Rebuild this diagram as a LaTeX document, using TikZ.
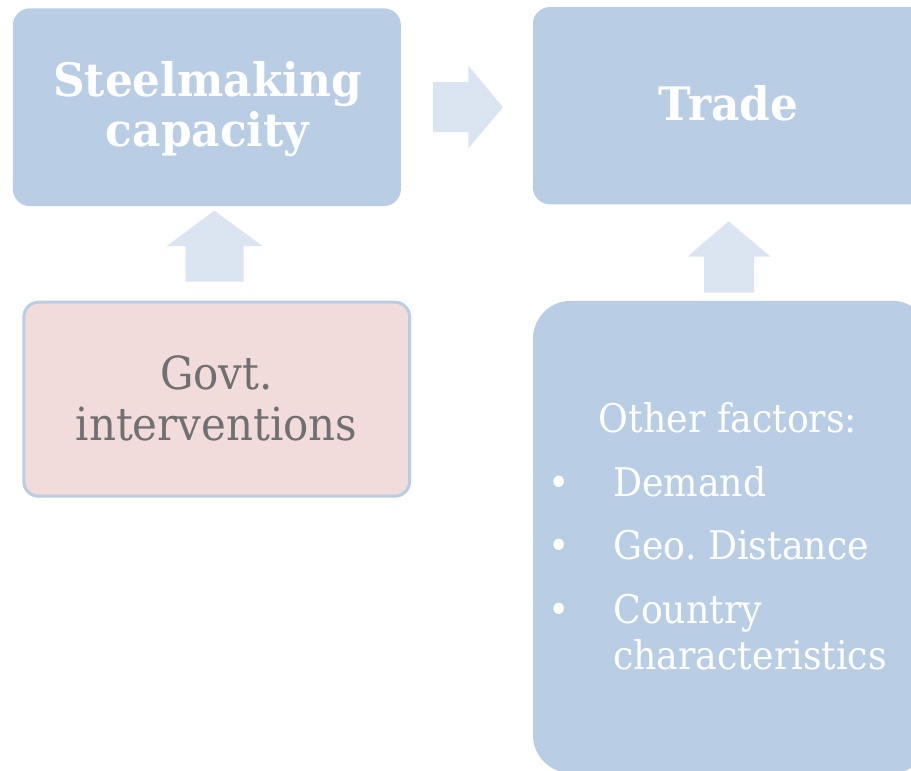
\documentclass[tikz,border=0pt]{standalone}
\usepackage{fontspec}
\newfontfamily\regf[FakeStretch=0.92]{DejaVu Serif}
\newfontfamily\boldf[FakeStretch=0.95]{DejaVu Serif}
\definecolor{boxblue}{HTML}{B9CDE5}
\definecolor{arrowblue}{HTML}{DBE5F1}
\definecolor{pinkfill}{HTML}{F2DCDB}
\definecolor{greytxt}{HTML}{707070}
\tikzset{
  bluebox/.style={fill=boxblue, draw=none, rounded corners=12.75pt, inner sep=0pt},
  pinkbox/.style={fill=pinkfill, draw=boxblue, line width=2.25pt, rounded corners=11pt, inner sep=0pt},
  titletxt/.style={text=white, font=\boldf\bfseries\fontsize{34.6}{40}\selectfont, inner sep=0pt, anchor=base},
  govttxt/.style={text=greytxt, font=\regf\fontsize{34.2}{40}\selectfont, inner sep=0pt, anchor=base},
  listtxt/.style={text=white, font=\regf\fontsize{29.6}{36}\selectfont, inner sep=0pt, anchor=base west},
  blockarrow/.style={fill=arrowblue, draw=none}
}
\begin{document}
\begin{tikzpicture}[x=0.75pt,y=-0.75pt]
\clip (0,0) rectangle (911,771);
\fill[white] (0,0) rectangle (911,771);
% boxes
\node[bluebox, minimum width=291pt, minimum height=148.3pt] (steel) at (206.9,107.2) {};
\node[bluebox, minimum width=297.75pt, minimum height=148pt] (trade) at (731.5,105.7) {};
\node[pinkbox, minimum width=289.3pt, minimum height=145.5pt] (govt) at (216.7,399.2) {};
\node[bluebox, rounded corners=28.5pt, minimum width=297.75pt, minimum height=354.2pt] (other) at (731.5,536.9) {};
% texts
\node[titletxt] (steel1) at (207.5,96.7) {Steelmaking};
\node[titletxt] (steel2) at (207.5,146.7) {capacity};
\node[titletxt] (tradet) at (728.5,120.7) {Trade};
\node[govttxt] (govt1) at (216.5,389) {Govt.};
\node[govttxt] (govt2) at (216.5,440.7) {interventions};
\node[listtxt, anchor=base] (oth0) at (728,432.7) {Other factors:};
\node[listtxt, anchor=base] (b1) at (559,496) {•};
\node[listtxt, anchor=base] (b2) at (559,559.3) {•};
\node[listtxt, anchor=base] (b3) at (559,623.3) {•};
\node[listtxt] (oth1) at (613,496) {Demand};
\node[listtxt] (oth2) at (613,559.3) {Geo.\ Distance};
\node[listtxt] (oth3) at (613,623.3) {Country};
\node[listtxt] (oth4) at (613,669.3) {characteristics};
% block arrows
\fill[blockarrow] (433,82) -- (468.3,82) -- (468.3,65.7) -- (503,107.3) -- (468.3,148.3) -- (468.3,132) -- (433,132) -- cycle;
\fill[blockarrow] (185.4,281.7) -- (185.4,246) -- (166.8,246) -- (214.4,210.7) -- (262.6,246) -- (243.5,246) -- (243.5,281.7) -- cycle;
\fill[blockarrow] (704.2,292.7) -- (704.2,256.7) -- (687.4,256.7) -- (728.6,221.3) -- (770.5,256.7) -- (754.2,256.7) -- (754.2,292.7) -- cycle;
\end{tikzpicture}
\end{document}
